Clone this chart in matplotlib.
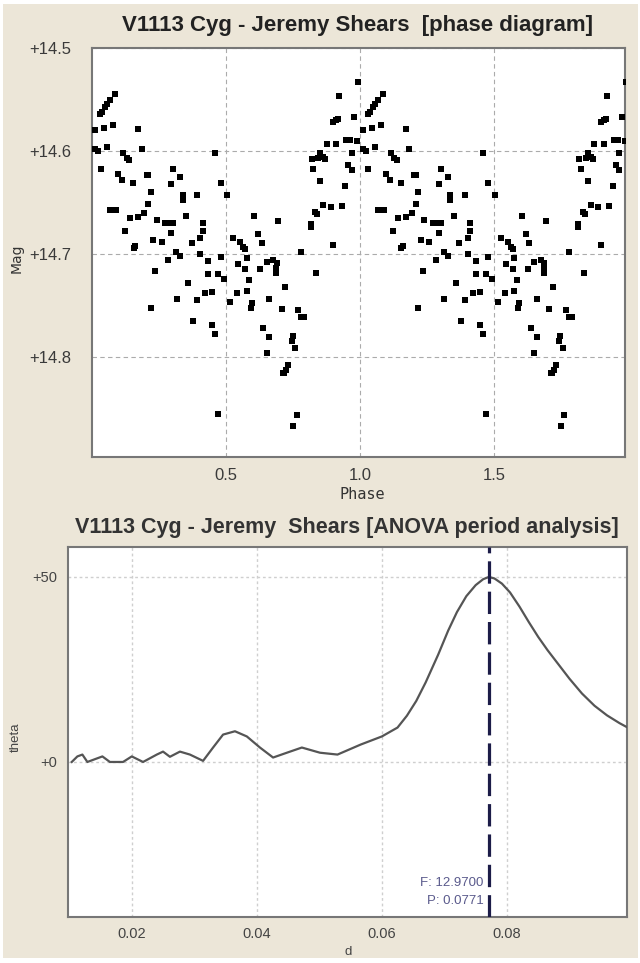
import matplotlib
matplotlib.use("Agg")
import matplotlib.pyplot as plt
from matplotlib.patches import Rectangle

plt.rcParams['font.family'] = ['Liberation Sans', 'DejaVu Sans']

# phase diagram: one cycle of (phase, mag), drawn twice (phase and phase + 1)
phase = [0.086, 0.067, 0.057, 0.049, 0.039, 0.030, 0.011, 0.045, 0.080, 0.173,
         0.011, 0.024, 0.055, 0.185, 0.117, 0.129, 0.139, 0.032, 0.459, 0.098,
         0.111, 0.152, 0.204, 0.209, 0.303, 0.328, 0.294, 0.480, 0.219, 0.338,
         0.338, 0.391, 0.503, 0.210, 0.067, 0.090, 0.194, 0.173, 0.142, 0.241,
         0.272, 0.291, 0.303, 0.351, 0.413, 0.604, 0.695, 0.123, 0.294, 0.413,
         0.403, 0.229, 0.260, 0.372, 0.527, 0.552, 0.565, 0.571, 0.621, 0.633,
         0.160, 0.155, 0.313, 0.328, 0.403, 0.480, 0.782, 0.285, 0.434, 0.577,
         0.546, 0.571, 0.652, 0.677, 0.689, 0.687, 0.687, 0.627, 0.235, 0.434,
         0.471, 0.838, 0.826, 0.820, 0.832, 0.840, 0.816, 0.816, 0.844, 0.493,
         0.359, 0.422, 0.447, 0.541, 0.577, 0.587, 0.720, 0.219, 0.316, 0.391,
         0.515, 0.596, 0.592, 0.662, 0.708, 0.770, 0.782, 0.791, 0.378, 0.447,
         0.459, 0.639, 0.662, 0.749, 0.745, 0.757, 0.652, 0.732, 0.724, 0.713,
         0.718, 0.471, 0.764, 0.751, 0.994, 0.923, 0.900, 0.910, 0.919, 0.876,
         0.910, 0.950, 0.963, 0.979, 0.990, 0.851, 0.863, 0.869, 0.969, 0.957,
         0.969, 0.851, 0.944, 0.863, 0.891, 0.932, 0.900]
mag = [14.545, 14.550, 14.554, 14.557, 14.562, 14.564, 14.580, 14.578, 14.575, 14.579,
       14.598, 14.600, 14.596, 14.598, 14.602, 14.607, 14.609, 14.617, 14.602, 14.622,
       14.628, 14.631, 14.623, 14.623, 14.617, 14.625, 14.632, 14.631, 14.640, 14.643,
       14.648, 14.643, 14.643, 14.651, 14.657, 14.657, 14.660, 14.664, 14.665, 14.667,
       14.670, 14.670, 14.670, 14.663, 14.670, 14.663, 14.668, 14.678, 14.680, 14.678,
       14.684, 14.686, 14.688, 14.689, 14.684, 14.688, 14.693, 14.695, 14.681, 14.689,
       14.692, 14.694, 14.698, 14.702, 14.700, 14.703, 14.698, 14.706, 14.707, 14.704,
       14.710, 14.715, 14.708, 14.706, 14.709, 14.714, 14.718, 14.715, 14.716, 14.719,
       14.719, 14.718, 14.617, 14.608, 14.659, 14.661, 14.671, 14.674, 14.607, 14.724,
       14.728, 14.738, 14.737, 14.738, 14.736, 14.725, 14.732, 14.752, 14.744, 14.745,
       14.747, 14.748, 14.752, 14.744, 14.753, 14.754, 14.761, 14.761, 14.765, 14.769,
       14.778, 14.772, 14.781, 14.780, 14.784, 14.791, 14.796, 14.808, 14.813, 14.815,
       14.815, 14.855, 14.856, 14.867, 14.533, 14.547, 14.572, 14.570, 14.569, 14.593,
       14.593, 14.589, 14.589, 14.567, 14.590, 14.602, 14.606, 14.608, 14.602, 14.614,
       14.618, 14.629, 14.634, 14.652, 14.654, 14.653, 14.691]

# ANOVA periodogram
period = [0.0104, 0.0113, 0.0121, 0.0129, 0.0153, 0.0165, 0.0186, 0.0200, 0.0218,
          0.0240, 0.0250, 0.0261, 0.0277, 0.0293, 0.0314, 0.0330, 0.0346, 0.0365,
          0.0384, 0.0405, 0.0426, 0.0448, 0.0472, 0.0501, 0.0529, 0.0566, 0.0600,
          0.0625, 0.0640, 0.0655, 0.0670, 0.0690, 0.0706, 0.0720, 0.0735, 0.0750,
          0.0762, 0.0771, 0.0780, 0.0792, 0.0805, 0.0820, 0.0835, 0.0850, 0.0865,
          0.0880, 0.0900, 0.0920, 0.0940, 0.0960, 0.0980, 0.0992]
theta = [0.0, 1.5, 2.0, 0.0, 1.5, 0.0, 0.0, 1.5, 0.0,
         2.0, 2.8, 1.4, 2.8, 2.0, 0.3, 3.9, 7.4, 8.3,
         6.9, 3.9, 1.2, 2.5, 3.9, 2.5, 2.0, 4.7, 6.9,
         9.3, 12.5, 16.5, 21.5, 29.0, 35.5, 40.5, 44.8, 47.8,
         49.4, 50.0, 49.6, 48.2, 45.8, 42.0, 37.8, 33.8, 30.2,
         26.9, 22.5, 18.5, 15.2, 12.6, 10.5, 9.4]
best_period = 0.0771
best_freq = 12.9700

BG = '#ECE6D8'
fig = plt.figure(figsize=(6.4, 9.63), dpi=100, facecolor='white')
fig.patches.append(Rectangle((3 / 640, 5 / 963), 635 / 640, 954 / 963,
                             transform=fig.transFigure, facecolor=BG,
                             edgecolor='none', zorder=-10))

# top panel: phase diagram
ax1 = fig.add_axes([92 / 640, 1 - 457 / 963, 533 / 640, 409 / 963])
ax1.scatter(phase, mag, marker='s', s=17, c='black', linewidths=0, zorder=3)
ax1.scatter([p + 1 for p in phase], mag, marker='s', s=17, c='black',
            linewidths=0, zorder=3)
ax1.set_xlim(0, 1.99)
ax1.set_ylim(14.897, 14.5)
ax1.set_xticks([0.5, 1.0, 1.5])
ax1.set_xticklabels(['0.5', '1.0', '1.5'])
ax1.set_yticks([14.5, 14.6, 14.7, 14.8])
ax1.set_yticklabels(['+14.5', '+14.6', '+14.7', '+14.8'])
ax1.grid(True, color='#ababab', linestyle=(0, (4, 3)), linewidth=0.8)
ax1.tick_params(length=0, labelsize=12, colors='#3a3a3a')
ax1.tick_params(axis='y', pad=15)
ax1.tick_params(axis='x', pad=8)
for s in ax1.spines.values():
    s.set_color('#777777')
    s.set_linewidth(1.5)

fig.text(358 / 640, 1 - 25 / 963, 'V1113 Cyg - Jeremy Shears  [phase diagram]',
         ha='center', va='center', fontsize=16, fontweight='bold', color='#222222')
fig.text(17 / 640, 1 - 258 / 963, 'Mag', rotation=90, ha='center', va='center',
         fontsize=10, color='#333333', family='DejaVu Sans')
fig.text(362 / 640, 1 - 494 / 963, 'Phase', ha='center', va='center',
         fontsize=11, color='#333333', family='DejaVu Sans Mono')

# bottom panel: ANOVA period analysis
ax2 = fig.add_axes([68 / 640, 1 - 917 / 963, 559 / 640, 370 / 963])
ax2.plot(period, theta, color='#555555', linewidth=1.6, zorder=3)
ax2.axvline(best_period, color='#1c1c48', linewidth=2.3, dashes=(7, 2.5), zorder=4)
ax2.annotate(f'F: {best_freq:.4f}', xy=(best_period, -32.6), xytext=(-4, 0),
             textcoords='offset points', ha='right', va='center',
             fontsize=9.5, color='#5a5a8c')
ax2.annotate(f'P: {best_period:.4f}', xy=(best_period, -37.5), xytext=(-4, 0),
             textcoords='offset points', ha='right', va='center',
             fontsize=9.5, color='#5a5a8c')
ax2.set_xlim(0.0098, 0.0992)
ax2.set_ylim(-41.9, 58.1)
ax2.set_xticks([0.02, 0.04, 0.06, 0.08])
ax2.set_xticklabels(['0.02', '0.04', '0.06', '0.08'])
ax2.set_yticks([0, 50])
ax2.set_yticklabels(['+0', '+50'])
ax2.grid(True, color='#cfcfcf', linestyle=(0, (2, 2)), linewidth=1.0)
ax2.tick_params(length=0, labelsize=10.5, colors='#444444')
ax2.tick_params(axis='y', pad=8)
ax2.tick_params(axis='x', pad=7)
for s in ax2.spines.values():
    s.set_color('#777777')
    s.set_linewidth(1.5)

fig.text(347 / 640, 1 - 528 / 963, 'V1113 Cyg - Jeremy  Shears [ANOVA period analysis]',
         ha='center', va='center', fontsize=15.5, fontweight='bold', color='#333333')
fig.text(16 / 640, 1 - 737 / 963, 'theta', rotation=90, ha='center', va='center',
         fontsize=9.5, color='#444444')
fig.text(348 / 640, 1 - 952 / 963, 'd', ha='center', va='center',
         fontsize=9.5, color='#444444')

fig.savefig('out.png', dpi=100, facecolor='white')
